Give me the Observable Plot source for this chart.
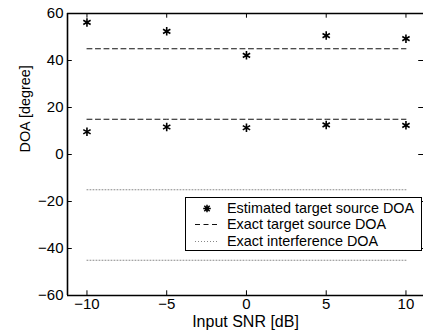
<!DOCTYPE html>
<html><head><meta charset="utf-8">
<script src="https://cdn.jsdelivr.net/npm/d3@7"></script>
<script src="https://cdn.jsdelivr.net/npm/@observablehq/plot@0.6"></script>
<style>
body{margin:0;background:#fff;font-family:"Liberation Sans",Arial,sans-serif;}
#wrap{position:relative;width:423px;height:336px;}
#legend{position:absolute;left:185px;top:197px;width:235px;height:52px;border:1px solid #000;background:#fff;font-size:14.4px;color:#000;}
#legend .row{position:absolute;left:0;height:17px;line-height:17px;}
#legend svg{position:absolute;left:0;top:0;}
#legend span{position:absolute;left:41px;white-space:nowrap;}
</style>
</head><body>
<div id="wrap"></div>
<script>
const snr = [-10, -5, 0, 5, 10];
const estHigh = [56.2, 52.4, 42.2, 50.6, 49.3];
const estLow = [9.7, 11.7, 11.4, 12.6, 12.4];
const exactTarget = [45, 15];
const exactInterf = [-15, -45];
const xTicks = [-10, -5, 0, 5, 10];
const yTicks = [-60, -40, -20, 0, 20, 40, 60];
const xLabel = "Input SNR [dB]";
const yLabel = "DOA [degree]";
const legendLabels = ["Estimated target source DOA", "Exact target source DOA", "Exact interference DOA"];

const xMin = -11.22, xMax = 11.1, yMin = -60, yMax = 60;
const est = snr.flatMap((x, i) => [{x, y: estHigh[i]}, {x, y: estLow[i]}]);
const seg = v => snr.map(x => ({x, y: v}));
const fmt = d => d < 0 ? "\u2212" + Math.abs(d) : String(d);

const chart = Plot.plot({
  width: 423, height: 336,
  marginLeft: 67, marginRight: 0, marginTop: 13, marginBottom: 41,
  style: {fontFamily: "Liberation Sans, Arial, sans-serif", fontSize: "15px", color: "#000", background: "#fff"},
  x: {domain: [xMin, xMax]},
  y: {domain: [yMin, yMax]},
  marks: [
    ...exactTarget.map(v => Plot.line(seg(v), {x: "x", y: "y", stroke: "#111", strokeWidth: 1, strokeDasharray: "5,3.5"})),
    ...exactInterf.map(v => Plot.line(seg(v), {x: "x", y: "y", stroke: "#888", strokeWidth: 1, strokeDasharray: "1,2"})),
    Plot.dot(est, {x: "x", y: "y", symbol: "asterisk", r: 4, stroke: "#000", strokeWidth: 1.6}),
    // inward ticks
    Plot.ruleX(xTicks, {y1: yMin, y2: yMin + 2, stroke: "#000"}),
    Plot.ruleX(xTicks, {y1: yMax, y2: yMax - 2, stroke: "#000"}),
    Plot.ruleY(yTicks, {x1: xMin, x2: xMin + 0.3, stroke: "#000"}),
    Plot.ruleY(yTicks, {x1: xMax, x2: xMax - 0.3, stroke: "#000"}),
    // box
    Plot.ruleX([xMin], {stroke: "#000", strokeWidth: 1.6}),
    Plot.ruleY([yMin, yMax], {stroke: "#000", strokeWidth: 1.6}),
    Plot.axisX(xTicks, {tickSize: 0, tickPadding: 3, tickFormat: fmt, label: null, fontSize: 15}),
    Plot.axisY(yTicks, {tickSize: 0, tickPadding: 4, tickFormat: fmt, label: null, fontSize: 15}),
    Plot.text([xLabel], {frameAnchor: "bottom", dy: 31, fontSize: 16, fill: "#000"}),
    Plot.text([yLabel], {frameAnchor: "left", dx: -42, dy: -2, rotate: -90, fontSize: 14.4, fill: "#000"})
  ]
});
const wrap = document.getElementById("wrap");
wrap.appendChild(chart);

const lg = document.createElement("div");
lg.id = "legend";
const samples = [
  '<path d="M21,8.5 m-3.8,0 h7.6 M21,8.5 m0,-3.8 v7.6 M21,8.5 m-2.7,-2.7 l5.4,5.4 M21,8.5 m2.7,-2.7 l-5.4,5.4" stroke="#000" stroke-width="1.5"/>',
  '<line x1="9" y1="8.5" x2="33" y2="8.5" stroke="#111" stroke-dasharray="5,3.5"/>',
  '<line x1="9" y1="8.5" x2="33" y2="8.5" stroke="#888" stroke-dasharray="1,2"/>'
];
legendLabels.forEach((t, i) => {
  const r = document.createElement("div");
  r.className = "row";
  r.style.top = (1.5 + i * 16.8) + "px";
  r.style.width = "235px";
  r.innerHTML = `<svg width="40" height="17">${samples[i]}</svg><span>${t}</span>`;
  lg.appendChild(r);
});
wrap.appendChild(lg);
</script>
</body></html>
